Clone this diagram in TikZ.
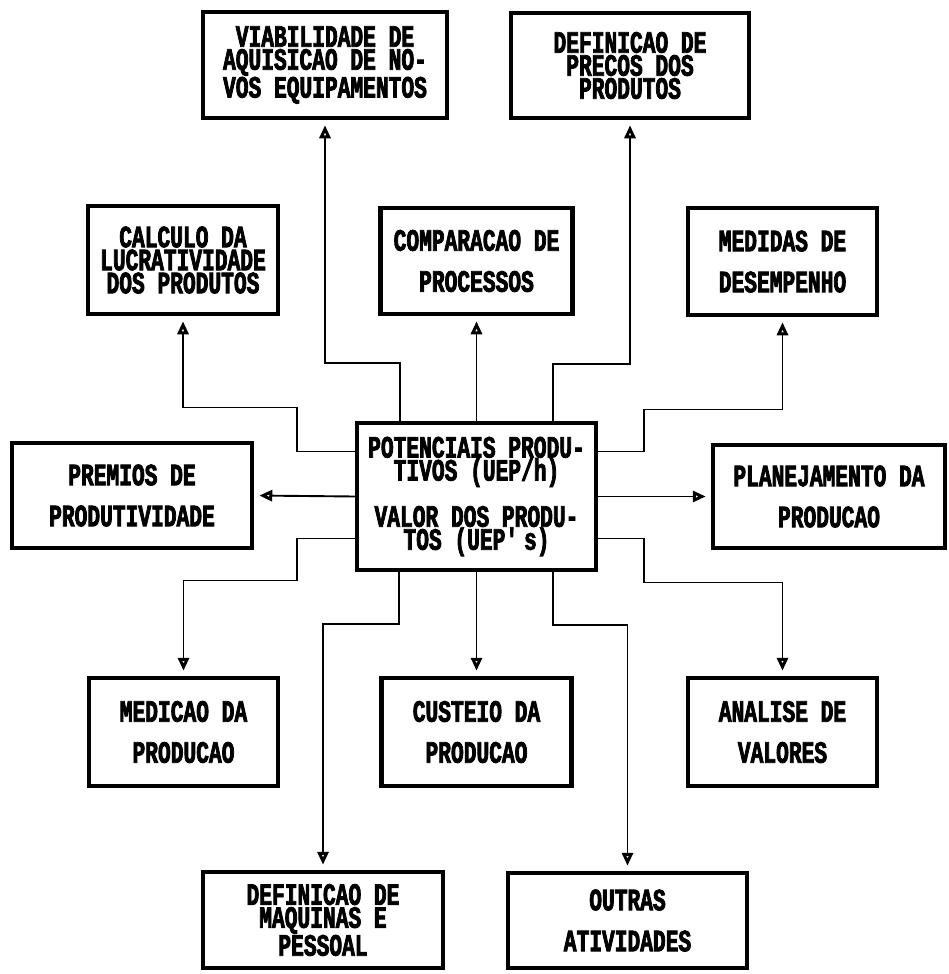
\documentclass[tikz,border=0pt]{standalone}
\usepackage{fontspec}
\newfontfamily\dotfont[FakeStretch=0.685, BoldFeatures={FakeBold=2.5}]{Liberation Mono}
\usetikzlibrary{arrows.meta}
\begin{document}
\begin{tikzpicture}[x=1pt,y=-1pt,
  box/.style={draw, line width=4.5pt, align=center, inner sep=0pt,
    font=\dotfont\bfseries\fontsize{31}{23}\selectfont},
  conn/.style={line width=1.9pt,
    -{Triangle[open,length=13pt,width=11pt,line width=3pt]}, shorten >=5pt},
]
\useasboundingbox (0,0) rectangle (948,974);

% central box
\node[box, minimum width=239pt, minimum height=147pt] (c) at (476.5,496.5)
  {POTENCIAIS PRODU-\\TIVOS (UEP/h)\\[18pt]VALOR DOS PRODU-\\TOS (UEP\textquotesingle s)};

% top row
\node[box, minimum width=244pt, minimum height=106pt] (viab) at (325,65)
  {VIABILIDADE DE\\AQUISICAO DE NO-\\VOS EQUIPAMENTOS};
\node[box, minimum width=238pt, minimum height=105pt] (prec) at (630,65.5)
  {DEFINICAO DE\\PRECOS DOS\\PRODUTOS};

% second row
\node[box, minimum width=190pt, minimum height=108pt] (calc) at (183,260)
  {CALCULO DA\\LUCRATIVIDADE\\DOS PRODUTOS};
\node[box, minimum width=192pt, minimum height=106pt] (comp) at (476.5,261)
  {COMPARACAO DE\\[18pt]PROCESSOS};
\node[box, minimum width=189pt, minimum height=107pt] (medi) at (782.5,261.5)
  {MEDIDAS DE\\[18pt]DESEMPENHO};

% middle row
\node[box, minimum width=240pt, minimum height=105pt] (prem) at (132,495.5)
  {PREMIOS DE\\[18pt]PRODUTIVIDADE};
\node[box, minimum width=232pt, minimum height=103pt] (plan) at (829,496.5)
  {PLANEJAMENTO DA\\[18pt]PRODUCAO};

% fourth row
\node[box, minimum width=189pt, minimum height=108pt] (medic) at (183.5,732)
  {MEDICAO DA\\[18pt]PRODUCAO};
\node[box, minimum width=190pt, minimum height=108pt] (cust) at (476.5,732)
  {CUSTEIO DA\\[18pt]PRODUCAO};
\node[box, minimum width=189pt, minimum height=108pt] (anal) at (782.5,732)
  {ANALISE DE\\[18pt]VALORES};

% bottom row
\node[box, minimum width=240pt, minimum height=96pt] (maq) at (323,920)
  {DEFINICAO DE\\MAQUINAS E\\PESSOAL};
\node[box, minimum width=239pt, minimum height=95pt] (outr) at (627.5,920.5)
  {OUTRAS\\[18pt]ATIVIDADES};

% connector start points on the central box
\coordinate (cN1) at ([xshift=-76.5pt]c.north);
\coordinate (cN3) at ([xshift=76.5pt]c.north);
\coordinate (cS1) at ([xshift=-77.5pt]c.south);
\coordinate (cS3) at ([xshift=76.5pt]c.south);
\coordinate (cW1) at ([yshift=45pt]c.west);
\coordinate (cW3) at ([yshift=-42pt]c.west);
\coordinate (cE1) at ([yshift=45pt]c.east);
\coordinate (cE3) at ([yshift=-42pt]c.east);

% connectors
\draw[conn] (cN1) -- ++(0,-58) -| (viab.south);
\draw[conn] (c.north) -- (comp.south);
\draw[conn] (cN3) -- ++(0,-57) -| (prec.south);
\draw[conn] (cW1) -- ++(-58,0) -- ++(0,-44) -| (calc.south);
\draw[conn] (cE1) -- ++(46,0) -- ++(0,-42) -| (medi.south);
\draw[conn] (c.west) -- (prem.east);
\draw[conn] (c.east) -- (plan.west);
\draw[conn] (cW3) -- ++(-58,0) -- ++(0,42) -| (medic.north);
\draw[conn] (cE3) -- ++(46,0) -- ++(0,44) -| (anal.north);
\draw[conn] (c.south) -- (cust.north);
\draw[conn] (cS1) -- ++(0,52) -| (maq.north);
\draw[conn] (cS3) -- ++(0,53) -| (outr.north);
\end{tikzpicture}
\end{document}
